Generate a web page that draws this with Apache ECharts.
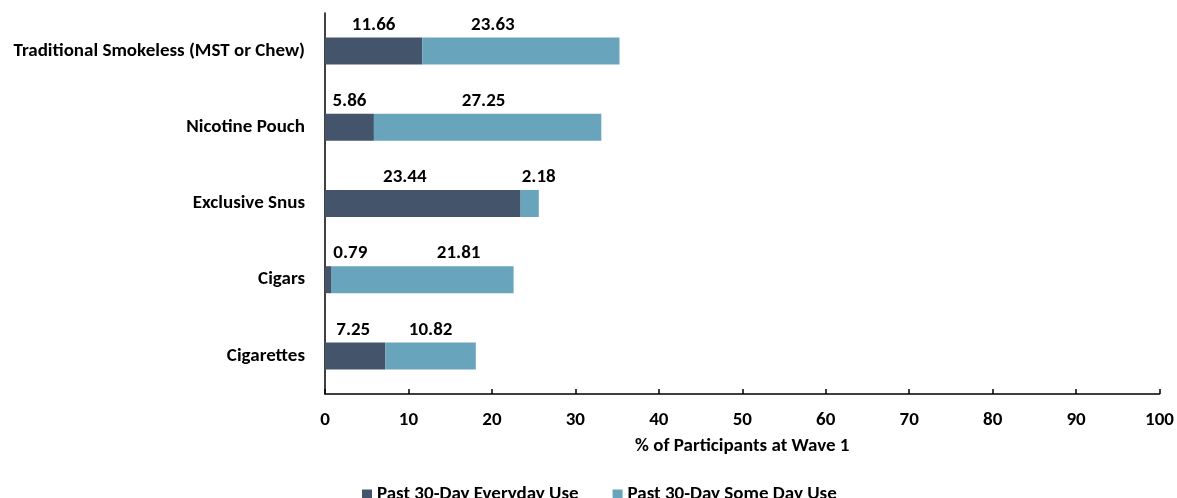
<!DOCTYPE html>
<html>
<head>
<meta charset="utf-8">
<script src="https://cdn.jsdelivr.net/npm/echarts@6/dist/echarts.min.js"></script>
<style>
  html, body { margin: 0; padding: 0; background: #fff; }
  #chart { width: 1177px; height: 498px; }
</style>
</head>
<body>
<div id="chart"></div>
<script>
// Tobacco product use at Wave 1 (percent of participants)
const categories = [
  'Cigarettes',
  'Cigars',
  'Exclusive Snus',
  'Nicotine Pouch',
  'Traditional Smokeless (MST or Chew)'
];
const everydayUse = [7.25, 0.79, 23.44, 5.86, 11.66];
const someDayUse = [10.82, 21.81, 2.18, 27.25, 23.63];
const seriesNames = ['Past 30-Day Everyday Use', 'Past 30-Day Some Day Use'];
const xTicks = [0, 10, 20, 30, 40, 50, 60, 70, 80, 90, 100];

// horizontal nudges (px) for the value labels sitting above each segment
const everydayNudge = [-2, 22, -18, 0, 0];
const someDayNudge = [0, 36, 9, -4, -28];

const FONT = "Carlito, 'Liberation Sans Narrow', 'Open Sans', sans-serif";
const FS = 19;
const DARK = '#44546a';
const LIGHT = '#68a5bc';

function labelled(values, nudges) {
  return values.map((v, i) => ({
    value: v,
    label: { offset: [nudges[i], 0] }
  }));
}

const baseLabel = {
  show: true,
  position: 'top',
  distance: 3,
  color: '#000',
  fontFamily: FONT,
  fontWeight: 'bold',
  fontSize: FS,
  formatter: p => p.value.toFixed(2)
};

const chart = echarts.init(document.getElementById('chart'), null, { renderer: 'canvas' });
chart.setOption({
  animation: false,
  textStyle: { fontFamily: FONT },
  grid: { left: 325, right: 17, top: 13, bottom: 104, containLabel: false },
  legend: {
    top: 480,
    left: 357,
    itemWidth: 10,
    itemHeight: 10,
    itemGap: 34,
    icon: 'rect',
    textStyle: { fontFamily: FONT, fontWeight: 'bold', fontSize: FS, color: '#000' },
    data: seriesNames
  },
  xAxis: {
    type: 'value',
    min: xTicks[0],
    max: xTicks[xTicks.length - 1],
    interval: 10,
    name: '% of Participants at Wave 1',
    nameLocation: 'middle',
    nameGap: 43,
    nameTextStyle: { fontFamily: FONT, fontWeight: 'bold', fontSize: FS, color: '#000' },
    axisLine: { show: true, lineStyle: { color: '#000', width: 1.5 } },
    axisTick: { show: true, inside: true, length: 5, lineStyle: { color: '#000', width: 1.5 } },
    axisLabel: { margin: 17, fontFamily: FONT, fontWeight: 'bold', fontSize: FS, color: '#000' },
    splitLine: { show: false }
  },
  yAxis: {
    type: 'category',
    data: categories,
    axisLine: { show: true, lineStyle: { color: '#000', width: 1.5 } },
    axisTick: { show: false },
    axisLabel: { margin: 20, fontFamily: FONT, fontWeight: 'bold', fontSize: FS, color: '#000' }
  },
  series: [
    {
      name: seriesNames[0],
      type: 'bar',
      stack: 'use',
      barWidth: 27,
      itemStyle: { color: DARK },
      label: baseLabel,
      data: labelled(everydayUse, everydayNudge)
    },
    {
      name: seriesNames[1],
      type: 'bar',
      stack: 'use',
      barWidth: 27,
      itemStyle: { color: LIGHT },
      label: baseLabel,
      data: labelled(someDayUse, someDayNudge)
    }
  ]
});
</script>
</body>
</html>
